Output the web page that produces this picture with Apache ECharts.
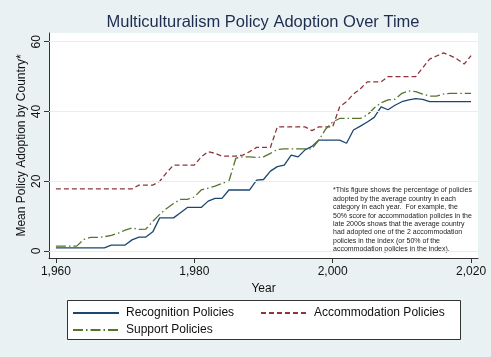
<!DOCTYPE html>
<html>
<head>
<meta charset="utf-8">
<script src="https://cdn.jsdelivr.net/npm/echarts@6/dist/echarts.min.js"></script>
<style>
html,body{margin:0;padding:0;background:#e9f1f3;}
#c{width:491px;height:357px;}
</style>
</head>
<body>
<div id="c"></div>
<script>
var years = [1960,1961,1962,1963,1964,1965,1966,1967,1968,1969,
1970,1971,1972,1973,1974,1975,1976,1977,1978,1979,
1980,1981,1982,1983,1984,1985,1986,1987,1988,1989,
1990,1991,1992,1993,1994,1995,1996,1997,1998,1999,
2000,2001,2002,2003,2004,2005,2006,2007,2008,2009,
2010,2011,2012,2013,2014,2015,2016,2017,2018,2019,2020];

var recognition = [0.9,0.9,0.9,0.9,0.9,0.9,0.9,0.9,1.7,1.7,
1.7,3.2,4.0,4.0,5.5,9.5,9.5,9.5,11.0,12.5,
12.5,12.5,14.3,15.1,15.1,17.5,17.5,17.5,17.5,20.3,
20.5,22.9,24.2,24.6,27.5,27.0,29.0,30.0,31.8,31.8,
31.8,31.8,30.9,34.7,35.8,37.0,38.3,41.3,40.5,41.8,
42.8,43.3,43.7,43.5,42.8,42.8,42.8,42.8,42.8,42.8,42.8];

var accommodation = [17.8,17.8,17.8,17.8,17.8,17.8,17.8,17.8,17.8,17.8,
17.8,17.8,18.9,18.9,18.9,20.0,22.5,24.6,24.6,24.6,
24.6,27.0,28.5,28.0,27.2,27.2,27.2,27.5,28.5,29.7,
29.7,29.7,35.6,35.6,35.6,35.6,35.6,34.5,35.6,35.6,
35.6,41.3,42.8,45.0,46.5,48.5,48.5,48.5,50.0,50.0,
50.0,50.0,50.0,52.5,55.0,55.9,56.8,56.0,55.0,53.6,56.0];

var support = [1.4,1.4,1.4,1.4,3.3,3.9,3.9,4.1,4.5,5.1,
6.0,6.6,6.2,6.3,8.5,10.5,12.2,13.6,14.8,14.8,
15.5,17.5,18.0,18.6,19.4,20.0,26.6,27.0,27.0,26.8,
27.0,28.0,29.1,29.3,29.3,29.3,29.3,29.3,31.8,35.0,
37.0,38.0,38.0,38.0,38.0,39.0,41.0,42.5,43.3,43.5,
45.2,45.9,45.7,45.0,44.4,44.4,45.0,45.2,45.2,45.2,45.2];

var xTicks = [1960,1980,2000,2020];
var yTicks = [0,20,40,60];

var seriesNames = ['Recognition Policies','Accommodation Policies','Support Policies'];
var titleText = 'Multiculturalism Policy Adoption Over Time';
var noteLines = [
 '*This figure shows the percentage of policies',
 'adopted by the average country in each',
 'category in each year.  For example, the',
 '50% score for accommodation policies in the',
 'late 2000s shows that the average country',
 'had adopted one of the 2 accommodation',
 'policies in the index (or 50% of the',
 'accommodation policies in the index).'
];

function pairs(vals){ return years.map(function(y,i){ return [y, vals[i]]; }); }

var FONT = '"Liberation Sans", Arial, Helvetica, sans-serif';
var chart = echarts.init(document.getElementById('c'), null, {renderer:'canvas'});

var legendBase = {
  orient:'horizontal', padding:0, itemWidth:46, itemHeight:14,
  itemStyle:{opacity:0, borderWidth:0},
  textStyle:{fontFamily:FONT, fontSize:12, color:'#111', padding:[0,0,0,2]},
  selectedMode:false, z:5
};

chart.setOption({
  backgroundColor:'#e9f1f3',
  animation:false,
  grid:{left:49, right:13, top:33, bottom:99, show:true, backgroundColor:'#ffffff', borderWidth:0},
  xAxis:{
    type:'value', min:1959, max:2021,
    name:'Year', nameLocation:'middle', nameGap:21,
    nameTextStyle:{fontFamily:FONT, fontSize:12, color:'#111'},
    axisLine:{show:true, onZero:false, lineStyle:{color:'#333', width:1}},
    axisTick:{show:true, length:5, customValues:xTicks, lineStyle:{color:'#333'}},
    axisLabel:{customValues:xTicks, margin:8, fontFamily:FONT, fontSize:12, color:'#111'},
    splitLine:{show:false}
  },
  yAxis:{
    type:'value', min:-2, max:62.5,
    name:'Mean Policy Adoption by Country*', nameLocation:'middle', nameGap:21, nameRotate:90,
    nameMoveOverlap:false,
    nameTextStyle:{fontFamily:FONT, fontSize:12, color:'#111'},
    axisLine:{show:true, onZero:false, lineStyle:{color:'#333', width:1}},
    axisTick:{show:true, length:5, customValues:yTicks, lineStyle:{color:'#333'}},
    axisLabel:{customValues:yTicks, rotate:90, margin:6, fontFamily:FONT, fontSize:12, color:'#111'},
    splitLine:{show:false}
  },
  legend:[
    Object.assign({}, legendBase, {left:72, top:307, data:[seriesNames[0]]}),
    Object.assign({}, legendBase, {left:260, top:307, data:[seriesNames[1]]}),
    Object.assign({}, legendBase, {left:72, top:324, data:[seriesNames[2]]})
  ],
  graphic:[
    {type:'text', x:263, y:22, z:3,
     style:{text:titleText, x:0, y:0, align:'center', verticalAlign:'middle', fontFamily:FONT, fontSize:16.5, fill:'#1e2c4f'}},
    {type:'rect', left:67, top:300, shape:{width:393, height:39}, style:{fill:'#ffffff', stroke:'#333', lineWidth:1}, z:1},
    {type:'text', left:333, top:186, z:3,
     style:{text:noteLines.join('\n'), fontFamily:FONT, fontSize:7, lineHeight:8.45, fill:'#222'}}
  ],
  series:[
    {type:'line', name:'grid', data:[], silent:true, z:1, showSymbol:false,
     markLine:{silent:true, symbol:'none', label:{show:false},
       lineStyle:{color:'#e6eef1', type:'solid', width:1},
       data:yTicks.map(function(v){return {yAxis:v};})}},
    {type:'line', name:seriesNames[0], data:pairs(recognition), symbol:'none', z:3,
     lineStyle:{color:'#1a476f', width:1.3, type:'solid'}, itemStyle:{color:'#1a476f'}},
    {type:'line', name:seriesNames[1], data:pairs(accommodation), symbol:'none', z:3,
     lineStyle:{color:'#90353b', width:1.3, type:[5,3]}, itemStyle:{color:'#90353b'}},
    {type:'line', name:seriesNames[2], data:pairs(support), symbol:'none', z:3,
     lineStyle:{color:'#55752f', width:1.3, type:[10,3,1.5,3]}, itemStyle:{color:'#55752f'}}
  ]
});
</script>
</body>
</html>
